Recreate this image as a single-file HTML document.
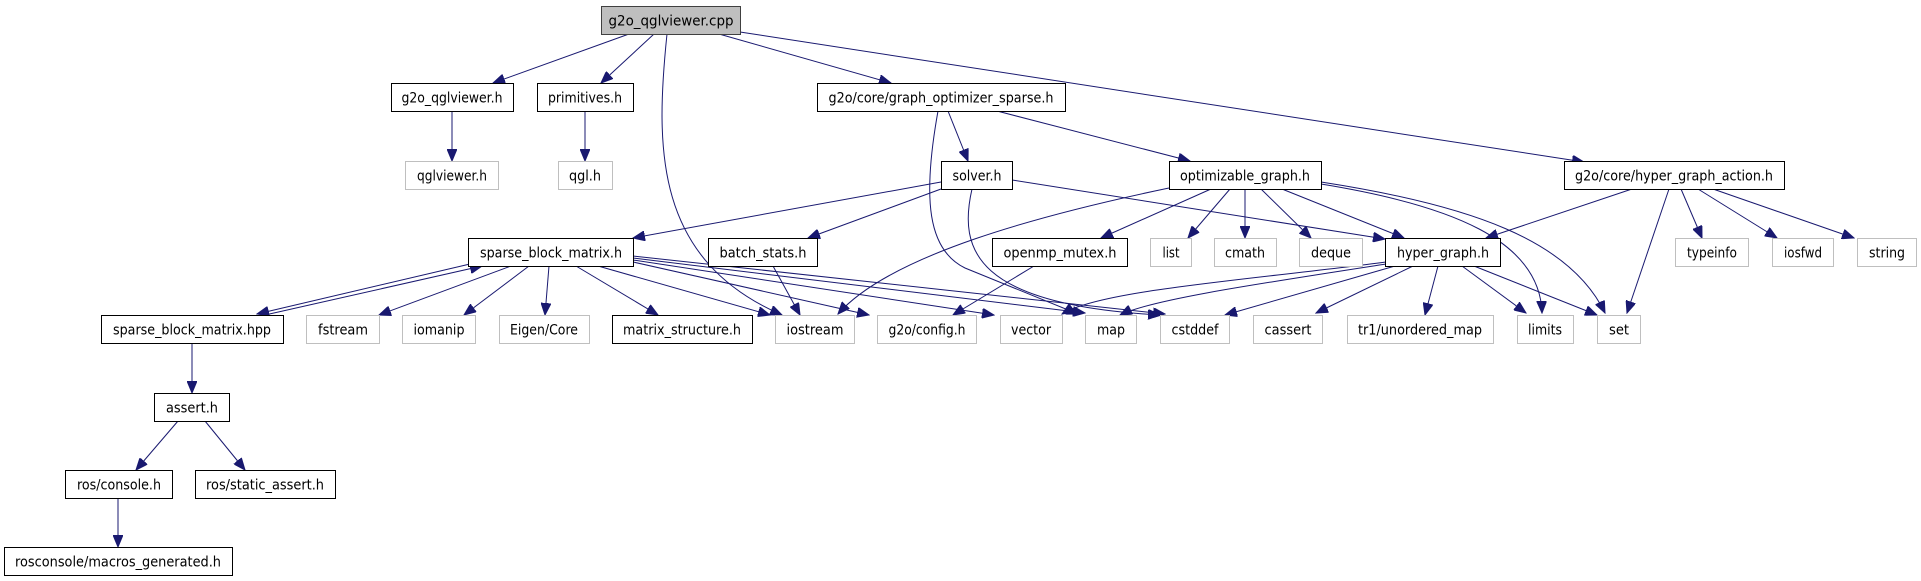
<!DOCTYPE html>
<html><head><meta charset="utf-8"><style>
html,body{margin:0;padding:0;background:#fff;}
svg{display:block;}
text{font-family:"DejaVu Sans","Liberation Sans",sans-serif;font-size:14px;fill:#000;}
.b{fill:#fff;stroke:#000;stroke-width:1;}
.g{fill:#fff;stroke:#bfbfbf;stroke-width:1;}
.e{fill:none;stroke:#191970;stroke-width:1;}
</style></head><body>
<svg width="1921" height="581" viewBox="0 0 1921 581" xmlns="http://www.w3.org/2000/svg">
<defs><marker id="a" markerUnits="userSpaceOnUse" markerWidth="13" markerHeight="10" refX="12" refY="5" orient="auto"><path d="M0,0 L12,5 L0,10 z" fill="#191970" stroke="#191970"/></marker></defs>
<g class="e" marker-end="url(#a)">
<path d="M629,34 L493,83"/>
<path d="M654,34 L601,83"/>
<path d="M667,34 C655,150 655,260 782,315"/>
<path d="M719,34 L891,83"/>
<path d="M740,32 L1584,162"/>
<path d="M452,111 L452,161"/>
<path d="M585,111 L585,161"/>
<path d="M948,111 L968,161"/>
<path d="M997,111 L1190,161"/>
<path d="M938,111 C922,200 928,250 965,268 L1078,314"/>
<path d="M941,182 L633,238"/>
<path d="M941,189 L808,238"/>
<path d="M1012,180 L1385,239"/>
<path d="M972,189 C958,250 975,305 1160,315"/>
<path d="M1169,188 C1040,215 890,255 838,314"/>
<path d="M1211,189 L1101,238"/>
<path d="M1230,189 L1188,238"/>
<path d="M1245,189 L1245,238"/>
<path d="M1261,189 L1311,238"/>
<path d="M1282,189 L1404,238"/>
<path d="M1321,184 C1450,205 1540,240 1542,313"/>
<path d="M1321,182 C1470,205 1570,240 1605,313"/>
<path d="M1632,189 L1486,238"/>
<path d="M1669,189 L1627,313"/>
<path d="M1681,189 L1702,238"/>
<path d="M1698,189 L1777,238"/>
<path d="M1713,189 L1854,238"/>
<path d="M1386,262 C1250,280 1100,290 1062,314"/>
<path d="M1386,264 C1250,285 1150,300 1120,315"/>
<path d="M1395,266 L1225,315"/>
<path d="M1413,266 L1316,313"/>
<path d="M1438,266 L1425,315"/>
<path d="M1462,266 L1526,313"/>
<path d="M1474,266 L1597,315"/>
<path d="M470,264 L257,314"/>
<path d="M265,315 L482,266"/>
<path d="M511,266 L379,315"/>
<path d="M529,266 L464,315"/>
<path d="M549,266 L545,315"/>
<path d="M576,266 L658,315"/>
<path d="M598,266 L770,315"/>
<path d="M633,262 L869,315"/>
<path d="M633,260 L994,315"/>
<path d="M633,258 L1085,313"/>
<path d="M633,256 L1165,314"/>
<path d="M773,266 L800,315"/>
<path d="M1034,266 L953,315"/>
<path d="M192,343 L192,393"/>
<path d="M178,421 L136,470"/>
<path d="M205,421 L245,470"/>
<path d="M118,498 L118,547"/>
</g>
<rect x="601.5" y="6.5" width="139" height="28" fill="#bfbfbf" stroke="#404040"/>
<text x="671" y="25.5" text-anchor="middle" textLength="125" lengthAdjust="spacingAndGlyphs">g2o_qglviewer.cpp</text>
<g>
<rect class="b" x="391.5" y="83.5" width="122" height="28"/><text x="452" y="102.5" text-anchor="middle" textLength="101" lengthAdjust="spacingAndGlyphs">g2o_qglviewer.h</text>
<rect class="b" x="537.5" y="83.5" width="96" height="28"/><text x="585" y="102.5" text-anchor="middle" textLength="74" lengthAdjust="spacingAndGlyphs">primitives.h</text>
<rect class="b" x="817.5" y="83.5" width="248" height="28"/><text x="941" y="102.5" text-anchor="middle" textLength="225" lengthAdjust="spacingAndGlyphs">g2o/core/graph_optimizer_sparse.h</text>
<rect class="g" x="405.5" y="161.5" width="93" height="28"/><text x="452" y="180.5" text-anchor="middle" textLength="70" lengthAdjust="spacingAndGlyphs">qglviewer.h</text>
<rect class="g" x="558.5" y="161.5" width="54" height="28"/><text x="585" y="180.5" text-anchor="middle" textLength="32" lengthAdjust="spacingAndGlyphs">qgl.h</text>
<rect class="b" x="941.5" y="161.5" width="71" height="28"/><text x="977" y="180.5" text-anchor="middle" textLength="49" lengthAdjust="spacingAndGlyphs">solver.h</text>
<rect class="b" x="1169.5" y="161.5" width="152" height="28"/><text x="1245" y="180.5" text-anchor="middle" textLength="130" lengthAdjust="spacingAndGlyphs">optimizable_graph.h</text>
<rect class="b" x="1564.5" y="161.5" width="220" height="28"/><text x="1674" y="180.5" text-anchor="middle" textLength="198" lengthAdjust="spacingAndGlyphs">g2o/core/hyper_graph_action.h</text>
<rect class="b" x="468.5" y="238.5" width="165" height="28"/><text x="551" y="257.5" text-anchor="middle" textLength="142" lengthAdjust="spacingAndGlyphs">sparse_block_matrix.h</text>
<rect class="b" x="708.5" y="238.5" width="109" height="28"/><text x="763" y="257.5" text-anchor="middle" textLength="87" lengthAdjust="spacingAndGlyphs">batch_stats.h</text>
<rect class="b" x="992.5" y="238.5" width="135" height="28"/><text x="1060" y="257.5" text-anchor="middle" textLength="113" lengthAdjust="spacingAndGlyphs">openmp_mutex.h</text>
<rect class="g" x="1150.5" y="238.5" width="41" height="28"/><text x="1171" y="257.5" text-anchor="middle" textLength="17" lengthAdjust="spacingAndGlyphs">list</text>
<rect class="g" x="1214.5" y="238.5" width="62" height="28"/><text x="1245" y="257.5" text-anchor="middle" textLength="40" lengthAdjust="spacingAndGlyphs">cmath</text>
<rect class="g" x="1299.5" y="238.5" width="63" height="28"/><text x="1331" y="257.5" text-anchor="middle" textLength="40" lengthAdjust="spacingAndGlyphs">deque</text>
<rect class="b" x="1385.5" y="238.5" width="115" height="28"/><text x="1443" y="257.5" text-anchor="middle" textLength="92" lengthAdjust="spacingAndGlyphs">hyper_graph.h</text>
<rect class="g" x="1675.5" y="238.5" width="73" height="28"/><text x="1712" y="257.5" text-anchor="middle" textLength="50" lengthAdjust="spacingAndGlyphs">typeinfo</text>
<rect class="g" x="1772.5" y="238.5" width="61" height="28"/><text x="1803" y="257.5" text-anchor="middle" textLength="38" lengthAdjust="spacingAndGlyphs">iosfwd</text>
<rect class="g" x="1857.5" y="238.5" width="59" height="28"/><text x="1887" y="257.5" text-anchor="middle" textLength="36" lengthAdjust="spacingAndGlyphs">string</text>
<rect class="b" x="101.5" y="315.5" width="182" height="28"/><text x="192" y="334.5" text-anchor="middle" textLength="158" lengthAdjust="spacingAndGlyphs">sparse_block_matrix.hpp</text>
<rect class="g" x="306.5" y="315.5" width="73" height="28"/><text x="343" y="334.5" text-anchor="middle" textLength="50" lengthAdjust="spacingAndGlyphs">fstream</text>
<rect class="g" x="402.5" y="315.5" width="73" height="28"/><text x="439" y="334.5" text-anchor="middle" textLength="51" lengthAdjust="spacingAndGlyphs">iomanip</text>
<rect class="g" x="499.5" y="315.5" width="90" height="28"/><text x="544" y="334.5" text-anchor="middle" textLength="68" lengthAdjust="spacingAndGlyphs">Eigen/Core</text>
<rect class="b" x="612.5" y="315.5" width="140" height="28"/><text x="682" y="334.5" text-anchor="middle" textLength="118" lengthAdjust="spacingAndGlyphs">matrix_structure.h</text>
<rect class="g" x="775.5" y="315.5" width="79" height="28"/><text x="815" y="334.5" text-anchor="middle" textLength="57" lengthAdjust="spacingAndGlyphs">iostream</text>
<rect class="g" x="877.5" y="315.5" width="99" height="28"/><text x="927" y="334.5" text-anchor="middle" textLength="77" lengthAdjust="spacingAndGlyphs">g2o/config.h</text>
<rect class="g" x="1000.5" y="315.5" width="62" height="28"/><text x="1031" y="334.5" text-anchor="middle" textLength="40" lengthAdjust="spacingAndGlyphs">vector</text>
<rect class="g" x="1085.5" y="315.5" width="51" height="28"/><text x="1111" y="334.5" text-anchor="middle" textLength="28" lengthAdjust="spacingAndGlyphs">map</text>
<rect class="g" x="1160.5" y="315.5" width="69" height="28"/><text x="1195" y="334.5" text-anchor="middle" textLength="47" lengthAdjust="spacingAndGlyphs">cstddef</text>
<rect class="g" x="1253.5" y="315.5" width="69" height="28"/><text x="1288" y="334.5" text-anchor="middle" textLength="47" lengthAdjust="spacingAndGlyphs">cassert</text>
<rect class="g" x="1347.5" y="315.5" width="146" height="28"/><text x="1420" y="334.5" text-anchor="middle" textLength="124" lengthAdjust="spacingAndGlyphs">tr1/unordered_map</text>
<rect class="g" x="1517.5" y="315.5" width="56" height="28"/><text x="1545" y="334.5" text-anchor="middle" textLength="34" lengthAdjust="spacingAndGlyphs">limits</text>
<rect class="g" x="1597.5" y="315.5" width="43" height="28"/><text x="1619" y="334.5" text-anchor="middle" textLength="20" lengthAdjust="spacingAndGlyphs">set</text>
<rect class="b" x="154.5" y="393.5" width="75" height="28"/><text x="192" y="412.5" text-anchor="middle" textLength="52" lengthAdjust="spacingAndGlyphs">assert.h</text>
<rect class="b" x="65.5" y="470.5" width="107" height="28"/><text x="119" y="489.5" text-anchor="middle" textLength="84" lengthAdjust="spacingAndGlyphs">ros/console.h</text>
<rect class="b" x="195.5" y="470.5" width="140" height="28"/><text x="265" y="489.5" text-anchor="middle" textLength="118" lengthAdjust="spacingAndGlyphs">ros/static_assert.h</text>
<rect class="b" x="4.5" y="547.5" width="228" height="28"/><text x="118" y="566.5" text-anchor="middle" textLength="206" lengthAdjust="spacingAndGlyphs">rosconsole/macros_generated.h</text>
</g>
</svg>
</body></html>
